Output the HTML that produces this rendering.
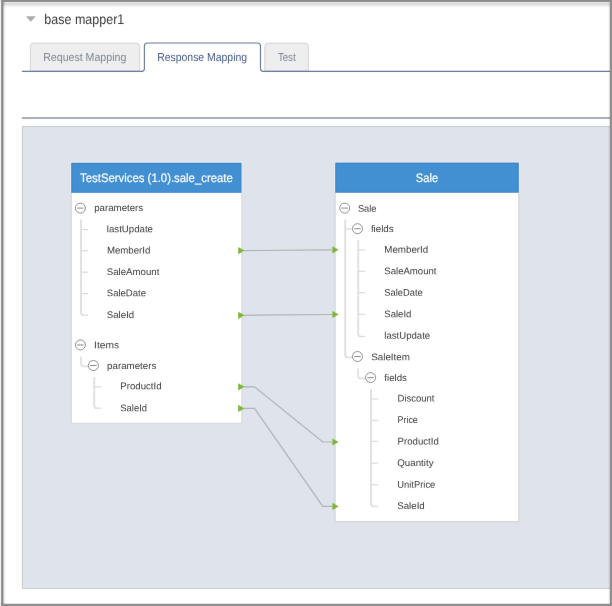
<!DOCTYPE html>
<html><head><meta charset="utf-8">
<style>
html,body{margin:0;padding:0;}
body{width:612px;height:606px;position:relative;overflow:hidden;background:#fff;font-family:"Liberation Sans",sans-serif;}
.abs{position:absolute;}
svg text{font-family:"Liberation Sans",sans-serif;text-rendering:geometricPrecision;}
</style></head><body>
<svg class="abs" style="left:0;top:0;z-index:10;will-change:transform" width="612" height="606" viewBox="0 0 612 606">
<defs><filter id="soft" x="0" y="0" width="100%" height="100%" filterUnits="userSpaceOnUse" color-interpolation-filters="sRGB"><feConvolveMatrix order="3" kernelMatrix="0.0016 0.0368 0.0016 0.0368 0.8464 0.0368 0.0016 0.0368 0.0016" edgeMode="duplicate" preserveAlpha="true"/></filter></defs>
<g filter="url(#soft)">
<rect x="-5" y="-5" width="622" height="616" fill="#fff"/>
<path d="M25.9 16.3H35.7L30.8 21.8Z" fill="#ababab"/>
<path d="M30.4 71V46.6Q30.4 43.1 33.9 43.1H136.2Q139.7 43.1 139.7 46.6V71Z" fill="#eeeeee" stroke="#d4d4d4" stroke-width="1"/>
<path d="M264.8 71V46.6Q264.8 43.1 268.3 43.1H304.8Q308.3 43.1 308.3 46.6V71Z" fill="#eeeeee" stroke="#d4d4d4" stroke-width="1"/>
<path d="M21.9 71.3H141.9Q144.4 71.3 144.4 68.8V46Q144.4 43 147.4 43H257.5Q260.5 43 260.5 46V68.8Q260.5 71.3 263 71.3H610" fill="none" stroke="#677799" stroke-width="1.15"/>
<rect x="21.9" y="117" width="588.1" height="2" fill="#a9adbb"/>
<rect x="21.9" y="126" width="588.1" height="463" fill="#c9cccf"/>
<rect x="23" y="127" width="587" height="461" fill="#dfe3eb"/>
<rect x="70.0" y="161.2" width="172.7" height="31.6" fill="#e7eaee"/><rect x="70.3" y="192.8" width="172.4" height="231.4" fill="#d7dade"/><rect x="71.9" y="192.8" width="169.4" height="230.0" fill="#fff"/><rect x="71.2" y="162.8" width="170.3" height="30.0" fill="#3984cc"/><rect x="72.5" y="164.1" width="167.7" height="27.7" fill="#428fd2"/><rect x="334.0" y="161.0" width="186.0" height="31.7" fill="#e7eaee"/><rect x="334.0" y="192.7" width="185.9" height="329.8" fill="#d7dade"/><rect x="335.8" y="192.7" width="182.4" height="328.2" fill="#fff"/><rect x="335.2" y="162.6" width="183.6" height="30.1" fill="#3984cc"/><rect x="336.5" y="163.9" width="181.0" height="27.8" fill="#428fd2"/>
<text x="44.3" y="23.65" font-size="14.0" fill="#383838" textLength="80.0" lengthAdjust="spacingAndGlyphs" transform="rotate(0.03 44.3 23.65)">base mapper1</text>
<text x="43.2" y="60.90" font-size="11.5" fill="#7d8694" textLength="83.1" lengthAdjust="spacingAndGlyphs" transform="rotate(0.03 43.2 60.90)">Request Mapping</text>
<text x="157.2" y="60.90" font-size="11.5" fill="#465a86" textLength="89.9" lengthAdjust="spacingAndGlyphs" transform="rotate(0.03 157.2 60.90)">Response Mapping</text>
<text x="277.9" y="60.90" font-size="11.5" fill="#7d8694" textLength="17.7" lengthAdjust="spacingAndGlyphs" transform="rotate(0.03 277.9 60.90)">Test</text>
<text x="80.1" y="181.80" font-size="12.3" fill="#fff" textLength="152.7" lengthAdjust="spacingAndGlyphs" stroke="#fff" stroke-width="0.2" transform="rotate(0.03 80.1 181.80)">TestServices (1.0).sale_create</text>
<text x="415.8" y="181.70" font-size="12.3" fill="#fff" textLength="22.3" lengthAdjust="spacingAndGlyphs" stroke="#fff" stroke-width="0.2" transform="rotate(0.03 415.8 181.70)">Sale</text>
<path d="M81 219.6V312.6Q81 315.1 83.5 315.1" fill="none" stroke="#e0e0e0" stroke-width="1.9"/>
<path d="M83 315.1H88" fill="none" stroke="#dbdbdb" stroke-width="1.25"/>
<path d="M81 229.5H88" fill="none" stroke="#dbdbdb" stroke-width="1.25"/>
<path d="M81 250.7H88" fill="none" stroke="#dbdbdb" stroke-width="1.25"/>
<path d="M81 272.2H88" fill="none" stroke="#dbdbdb" stroke-width="1.25"/>
<path d="M81 293.7H88" fill="none" stroke="#dbdbdb" stroke-width="1.25"/>
<path d="M81 356.4V363.8Q81 366.3 83.5 366.3H88.4" fill="none" stroke="#e0e0e0" stroke-width="1.7"/>
<path d="M94.2 377V405.7Q94.2 408.2 96.7 408.2" fill="none" stroke="#e0e0e0" stroke-width="1.9"/>
<path d="M96.2 408.2H101.2" fill="none" stroke="#dbdbdb" stroke-width="1.25"/>
<path d="M94.2 386.9H101.2" fill="none" stroke="#dbdbdb" stroke-width="1.25"/>
<path d="M345.2 219.5V354.9Q345.2 357.4 347.7 357.4H352.4" fill="none" stroke="#e0e0e0" stroke-width="1.9"/>
<path d="M345.2 228.9H352.4" fill="none" stroke="#dbdbdb" stroke-width="1.25"/>
<path d="M358.2 240.3V334Q358.2 336.5 360.7 336.5" fill="none" stroke="#e0e0e0" stroke-width="1.9"/>
<path d="M360.2 336.5H365.3" fill="none" stroke="#dbdbdb" stroke-width="1.25"/>
<path d="M358.2 249.9H365.3" fill="none" stroke="#dbdbdb" stroke-width="1.25"/>
<path d="M358.2 271.3H365.3" fill="none" stroke="#dbdbdb" stroke-width="1.25"/>
<path d="M358.2 292.7H365.3" fill="none" stroke="#dbdbdb" stroke-width="1.25"/>
<path d="M358.2 314.3H365.3" fill="none" stroke="#dbdbdb" stroke-width="1.25"/>
<path d="M358 368.4V375.8Q358 378.3 360.5 378.3H365.6" fill="none" stroke="#e0e0e0" stroke-width="1.7"/>
<path d="M371.1 389V503.9Q371.1 506.4 373.6 506.4" fill="none" stroke="#e0e0e0" stroke-width="1.9"/>
<path d="M373.1 506.4H378.2" fill="none" stroke="#dbdbdb" stroke-width="1.25"/>
<path d="M371.1 398.9H378.2" fill="none" stroke="#dbdbdb" stroke-width="1.25"/>
<path d="M371.1 420.3H378.2" fill="none" stroke="#dbdbdb" stroke-width="1.25"/>
<path d="M371.1 441.4H378.2" fill="none" stroke="#dbdbdb" stroke-width="1.25"/>
<path d="M371.1 463.2H378.2" fill="none" stroke="#dbdbdb" stroke-width="1.25"/>
<path d="M371.1 484.8H378.2" fill="none" stroke="#dbdbdb" stroke-width="1.25"/>
<circle cx="80.4" cy="208.1" r="5.0" fill="#fff" stroke="#888" stroke-width="0.95"/><path d="M77.2 208.1H83.6" stroke="#8a8a8a" stroke-width="1.0"/>
<circle cx="80.4" cy="344.9" r="5.0" fill="#fff" stroke="#888" stroke-width="0.95"/><path d="M77.2 344.9H83.6" stroke="#8a8a8a" stroke-width="1.0"/>
<circle cx="93.4" cy="365.5" r="5.0" fill="#fff" stroke="#888" stroke-width="0.95"/><path d="M90.2 365.5H96.6" stroke="#8a8a8a" stroke-width="1.0"/>
<circle cx="344.7" cy="208.1" r="5.0" fill="#fff" stroke="#888" stroke-width="0.95"/><path d="M341.5 208.1H347.9" stroke="#8a8a8a" stroke-width="1.0"/>
<circle cx="357.5" cy="228.7" r="5.0" fill="#fff" stroke="#888" stroke-width="0.95"/><path d="M354.3 228.7H360.7" stroke="#8a8a8a" stroke-width="1.0"/>
<circle cx="357.5" cy="356.5" r="5.0" fill="#fff" stroke="#888" stroke-width="0.95"/><path d="M354.3 356.5H360.7" stroke="#8a8a8a" stroke-width="1.0"/>
<circle cx="370.6" cy="377.6" r="5.0" fill="#fff" stroke="#888" stroke-width="0.95"/><path d="M367.4 377.6H373.8" stroke="#8a8a8a" stroke-width="1.0"/>
<text x="94.2" y="211.00" font-size="9.7" fill="#383838" textLength="49.0" lengthAdjust="spacingAndGlyphs" transform="rotate(0.03 94.2 211.00)">parameters</text>
<text x="106.8" y="232.20" font-size="9.7" fill="#383838" textLength="46.2" lengthAdjust="spacingAndGlyphs" transform="rotate(0.03 106.8 232.20)">lastUpdate</text>
<text x="106.9" y="253.50" font-size="9.7" fill="#383838" textLength="43.5" lengthAdjust="spacingAndGlyphs" transform="rotate(0.03 106.9 253.50)">MemberId</text>
<text x="106.8" y="274.90" font-size="9.7" fill="#383838" textLength="52.6" lengthAdjust="spacingAndGlyphs" transform="rotate(0.03 106.8 274.90)">SaleAmount</text>
<text x="106.8" y="296.30" font-size="9.7" fill="#383838" textLength="39.2" lengthAdjust="spacingAndGlyphs" transform="rotate(0.03 106.8 296.30)">SaleDate</text>
<text x="106.8" y="317.90" font-size="9.7" fill="#383838" textLength="27.4" lengthAdjust="spacingAndGlyphs" transform="rotate(0.03 106.8 317.90)">SaleId</text>
<text x="94.1" y="348.20" font-size="9.7" fill="#383838" textLength="24.9" lengthAdjust="spacingAndGlyphs" transform="rotate(0.03 94.1 348.20)">Items</text>
<text x="107.1" y="368.90" font-size="9.7" fill="#383838" textLength="49.2" lengthAdjust="spacingAndGlyphs" transform="rotate(0.03 107.1 368.90)">parameters</text>
<text x="120.3" y="389.30" font-size="9.7" fill="#383838" textLength="41.3" lengthAdjust="spacingAndGlyphs" transform="rotate(0.03 120.3 389.30)">ProductId</text>
<text x="120.3" y="411.20" font-size="9.7" fill="#383838" textLength="26.7" lengthAdjust="spacingAndGlyphs" transform="rotate(0.03 120.3 411.20)">SaleId</text>
<text x="357.9" y="211.70" font-size="9.7" fill="#383838" textLength="18.6" lengthAdjust="spacingAndGlyphs" transform="rotate(0.03 357.9 211.70)">Sale</text>
<text x="370.9" y="231.90" font-size="9.7" fill="#383838" textLength="22.8" lengthAdjust="spacingAndGlyphs" transform="rotate(0.03 370.9 231.90)">fields</text>
<text x="384.3" y="252.80" font-size="9.7" fill="#383838" textLength="43.9" lengthAdjust="spacingAndGlyphs" transform="rotate(0.03 384.3 252.80)">MemberId</text>
<text x="384.3" y="274.20" font-size="9.7" fill="#383838" textLength="52.2" lengthAdjust="spacingAndGlyphs" transform="rotate(0.03 384.3 274.20)">SaleAmount</text>
<text x="384.3" y="295.70" font-size="9.7" fill="#383838" textLength="38.4" lengthAdjust="spacingAndGlyphs" transform="rotate(0.03 384.3 295.70)">SaleDate</text>
<text x="384.3" y="317.30" font-size="9.7" fill="#383838" textLength="27.1" lengthAdjust="spacingAndGlyphs" transform="rotate(0.03 384.3 317.30)">SaleId</text>
<text x="384.3" y="338.80" font-size="9.7" fill="#383838" textLength="45.9" lengthAdjust="spacingAndGlyphs" transform="rotate(0.03 384.3 338.80)">lastUpdate</text>
<text x="371.2" y="360.20" font-size="9.7" fill="#383838" textLength="38.8" lengthAdjust="spacingAndGlyphs" transform="rotate(0.03 371.2 360.20)">SaleItem</text>
<text x="384.3" y="381.00" font-size="9.7" fill="#383838" textLength="22.6" lengthAdjust="spacingAndGlyphs" transform="rotate(0.03 384.3 381.00)">fields</text>
<text x="397.6" y="401.60" font-size="9.7" fill="#383838" textLength="36.9" lengthAdjust="spacingAndGlyphs" transform="rotate(0.03 397.6 401.60)">Discount</text>
<text x="397.6" y="422.70" font-size="9.7" fill="#383838" textLength="20.2" lengthAdjust="spacingAndGlyphs" transform="rotate(0.03 397.6 422.70)">Price</text>
<text x="397.6" y="444.40" font-size="9.7" fill="#383838" textLength="41.2" lengthAdjust="spacingAndGlyphs" transform="rotate(0.03 397.6 444.40)">ProductId</text>
<text x="397.3" y="465.90" font-size="9.7" fill="#383838" textLength="36.2" lengthAdjust="spacingAndGlyphs" transform="rotate(0.03 397.3 465.90)">Quantity</text>
<text x="397.3" y="487.70" font-size="9.7" fill="#383838" textLength="38.0" lengthAdjust="spacingAndGlyphs" transform="rotate(0.03 397.3 487.70)">UnitPrice</text>
<text x="397.3" y="509.10" font-size="9.7" fill="#383838" textLength="27.4" lengthAdjust="spacingAndGlyphs" transform="rotate(0.03 397.3 509.10)">SaleId</text>
<path d="M244 250.6L332.5 249.8" fill="none" stroke="#aeb3b2" stroke-width="1.2"/>
<path d="M244 315.3L332.5 314.5" fill="none" stroke="#aeb3b2" stroke-width="1.2"/>
<path d="M244 386.8H254.5L322.8 442H332.5" fill="none" stroke="#aeb3b2" stroke-width="1.2"/>
<path d="M244 408.4H254.5L322.8 506.4H332.5" fill="none" stroke="#aeb3b2" stroke-width="1.2"/>
<path d="M238.2 247.0L244.4 250.6L238.2 254.2Z" fill="#7fb539"/>
<path d="M238.2 311.7L244.4 315.3L238.2 318.9Z" fill="#7fb539"/>
<path d="M238.2 383.2L244.4 386.8L238.2 390.4Z" fill="#7fb539"/>
<path d="M238.2 404.8L244.4 408.4L238.2 412.0Z" fill="#7fb539"/>
<path d="M332.4 246.2L338.6 249.8L332.4 253.4Z" fill="#7fb539"/>
<path d="M332.4 310.9L338.6 314.5L332.4 318.1Z" fill="#7fb539"/>
<path d="M332.4 438.4L338.6 442.0L332.4 445.6Z" fill="#7fb539"/>
<path d="M332.4 502.8L338.6 506.4L332.4 510.0Z" fill="#7fb539"/>
</g>
<g shape-rendering="crispEdges"><rect x="0" y="2" width="612" height="1" fill="#e4e4e4"/><rect x="0" y="3" width="612" height="1" fill="#dcdcdc"/><rect x="0" y="4" width="612" height="1" fill="#dfdfdf"/><rect x="0" y="5" width="612" height="1" fill="#ebebeb"/><rect x="0" y="6" width="612" height="1" fill="#f5f5f5"/><rect x="0" y="7" width="612" height="1" fill="#fbfbfb"/><rect x="0" y="0" width="1" height="606" fill="#efefef"/><rect x="1" y="0" width="1" height="606" fill="#9c9c9c"/><rect x="2" y="0" width="1" height="606" fill="#8a8a8a"/><rect x="3" y="0" width="1" height="606" fill="rgba(0,0,0,0.24)"/><rect x="4" y="0" width="1" height="606" fill="rgba(0,0,0,0.07)"/><rect x="5" y="0" width="1" height="606" fill="rgba(0,0,0,0.02)"/><rect x="608" y="0" width="1" height="606" fill="rgba(0,0,0,0.03)"/><rect x="609" y="0" width="1" height="606" fill="rgba(0,0,0,0.12)"/><rect x="610" y="0" width="1" height="606" fill="#8f8f8f"/><rect x="611" y="0" width="1" height="606" fill="#8e8e8e"/><rect x="1" y="0" width="611" height="1" fill="#8c8c8c"/><rect x="1" y="1" width="611" height="1" fill="#929292"/><rect x="1" y="603" width="611" height="1" fill="rgba(0,0,0,0.10)"/><rect x="1" y="604" width="611" height="1" fill="#8f8f8f"/><rect x="1" y="605" width="611" height="1" fill="#8e8e8e"/></g>
</svg>
</body></html>
